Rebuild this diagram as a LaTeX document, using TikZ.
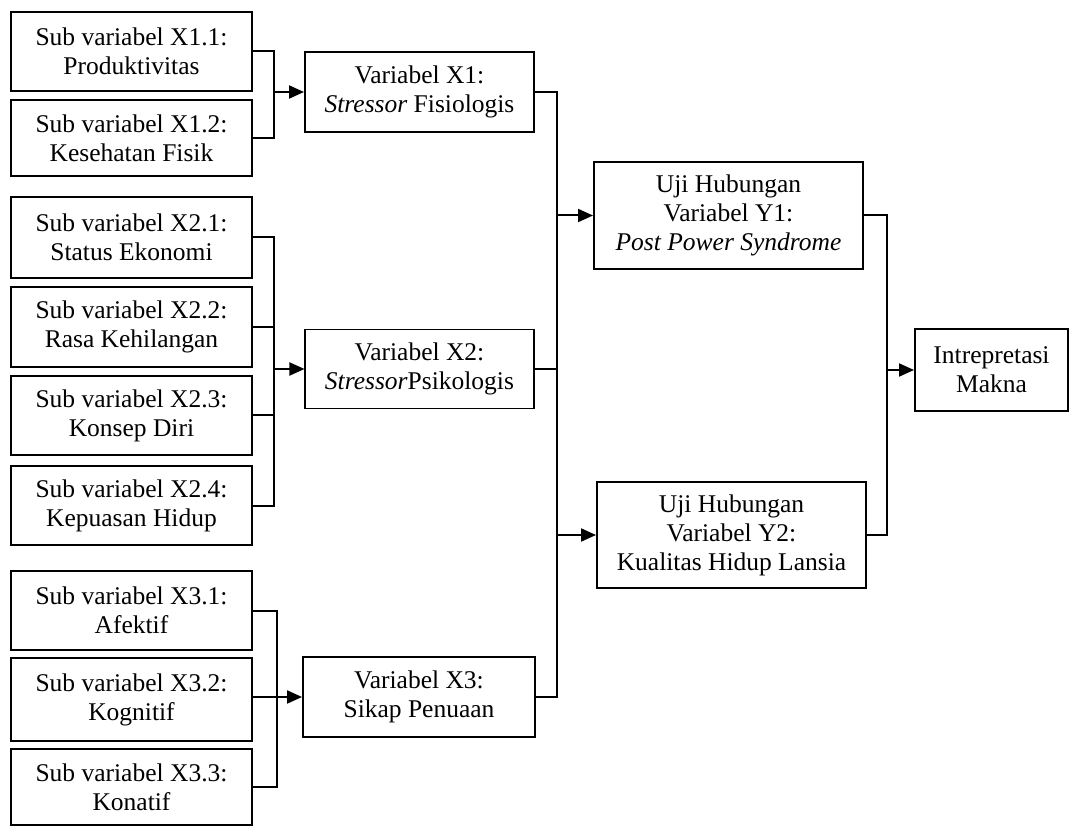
\documentclass[tikz,border=0pt]{standalone}
\usepackage{fontspec}
\setmainfont{Liberation Serif}
\usetikzlibrary{arrows.meta}
\begin{document}
\begin{tikzpicture}[x=1pt,y=-1pt,
  box/.style={draw, line width=2pt, align=center, inner sep=0pt,
    font=\fontsize{25.5}{29}\selectfont},
  thinbox/.style={box, line width=1.1pt},
  link/.style={line width=2pt},
  arr/.style={link, -{Triangle[length=15pt,width=13pt]}}]
\useasboundingbox (0,0) rectangle (1072,826);

% sub-variable boxes
\node[box, minimum width=241pt, minimum height=79pt] (s11) at (131.5,51.5) {Sub variabel X1.1:\\Produktivitas};
\node[box, minimum width=241pt, minimum height=76pt] (s12) at (131.5,138) {Sub variabel X1.2:\\Kesehatan Fisik};
\node[box, minimum width=241pt, minimum height=81pt] (s21) at (131.5,237.5) {Sub variabel X2.1:\\Status Ekonomi};
\node[box, minimum width=241pt, minimum height=80pt] (s22) at (131.5,327) {Sub variabel X2.2:\\Rasa Kehilangan};
\node[box, minimum width=241pt, minimum height=79pt] (s23) at (131.5,415.5) {Sub variabel X2.3:\\Konsep Diri};
\node[box, minimum width=241pt, minimum height=79pt] (s24) at (131.5,505.5) {Sub variabel X2.4:\\Kepuasan Hidup};
\node[box, minimum width=241pt, minimum height=79pt] (s31) at (131.5,610.5) {Sub variabel X3.1:\\Afektif};
\node[box, minimum width=241pt, minimum height=83pt] (s32) at (131.5,699.5) {Sub variabel X3.2:\\Kognitif};
\node[box, minimum width=241pt, minimum height=76pt] (s33) at (131.5,787) {Sub variabel X3.3:\\Konatif};

% variable boxes
\node[box, minimum width=229pt, minimum height=80pt] (v1) at (419.5,92) {Variabel X1:\\\textit{Stressor} Fisiologis};
\node[thinbox, minimum width=229pt, minimum height=79pt] (v2) at (419.5,369) {Variabel X2:\\\textit{Stressor}Psikologis};
\node[box, minimum width=232pt, minimum height=80pt] (v3) at (419,697) {Variabel X3:\\Sikap Penuaan};

% relation tests
\node[box, minimum width=269pt, minimum height=107pt] (y1) at (728.5,215.5) {Uji Hubungan\\Variabel Y1:\\\textit{Post Power Syndrome}};
\node[box, minimum width=269pt, minimum height=106pt] (y2) at (731.5,535) {Uji Hubungan\\Variabel Y2:\\Kualitas Hidup Lansia};

% interpretation
\node[box, minimum width=153pt, minimum height=82pt] (im) at (991.5,370) {Intrepretasi\\Makna};

% bus lines
\coordinate (b1) at (274,0);
\coordinate (b2) at (274,0);
\coordinate (b3) at (277,0);
\coordinate (bm) at (557,0);
\coordinate (br) at (887,0);

% group X1
\draw[link] (s11.east) -- (b1 |- s11.east) -- (b1 |- s12.east) -- (s12.east);
\draw[arr] (b1 |- v1.west) -- (v1.west);

% group X2
\draw[link] (s21.east) -- (b2 |- s21.east) -- (b2 |- s24.east) -- (s24.east);
\draw[link] (s22.east) -- (b2 |- s22.east);
\draw[link] (s23.east) -- (b2 |- s23.east);
\draw[arr] (b2 |- v2.west) -- (v2.west);

% group X3
\draw[link] (s31.east) -- (b3 |- s31.east) -- (b3 |- s33.east) -- (s33.east);
\draw[arr] (s32.east |- v3.west) -- (v3.west);

% variables to relation tests
\draw[link] (v1.east) -- (bm |- v1.east) -- (bm |- v3.east) -- (v3.east);
\draw[link] (v2.east) -- (bm |- v2.east);
\draw[arr] (bm |- y1.west) -- (y1.west);
\draw[arr] (bm |- y2.west) -- (y2.west);

% relation tests to interpretation
\draw[link] (y1.east) -- (br |- y1.east) -- (br |- y2.east) -- (y2.east);
\draw[arr] (br |- im.west) -- (im.west);
\end{tikzpicture}
\end{document}
